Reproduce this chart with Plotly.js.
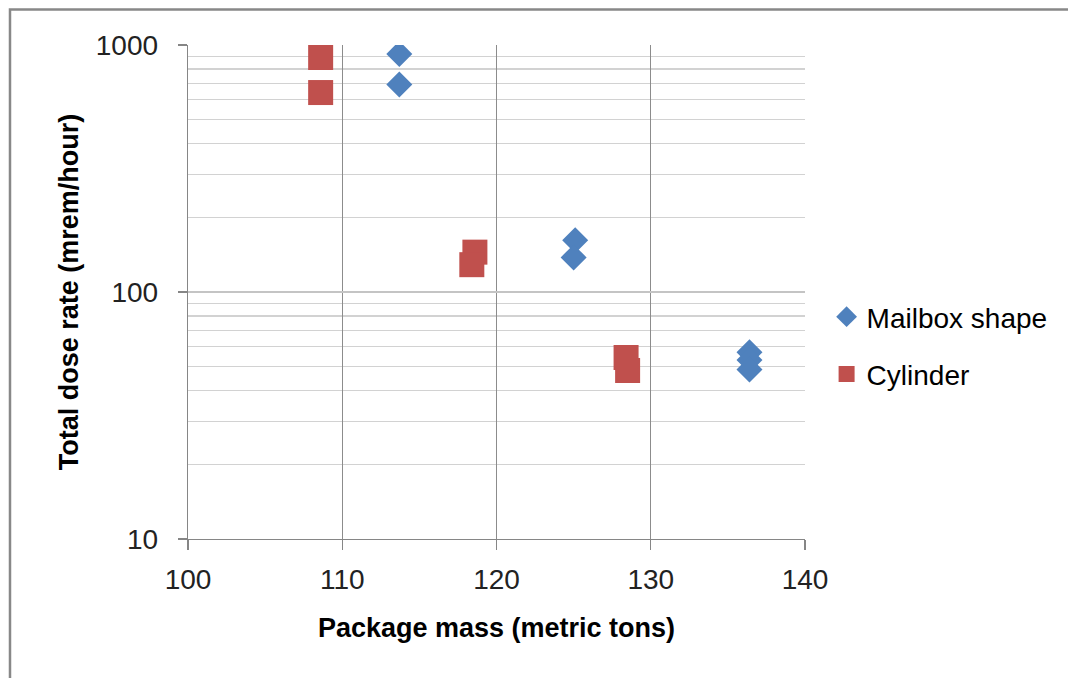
<!DOCTYPE html>
<html>
<head>
<meta charset="utf-8">
<script src="https://cdn.plot.ly/plotly-3.0.1.min.js"></script>
<style>html,body{margin:0;padding:0;background:#fff;}#chart{width:1068px;height:678px;}</style>
</head>
<body>
<div id="chart"></div>
<script>
// Data
const seriesNames = ["Mailbox shape", "Cylinder"];
const mailboxMass = [113.7, 113.7, 125.1, 125.0, 136.4, 136.4, 136.4];
const mailboxDose = [920, 692, 162, 138, 57, 53, 48.6];
const cylinderMass = [108.6, 108.6, 118.6, 118.4, 128.4, 128.5];
const cylinderDose = [890, 642, 145, 129, 54.3, 48.1];
const xTickVals = [100, 110, 120, 130, 140];
const xTitle = "Package mass (metric tons)";
const yTitle = "Total dose rate (mrem/hour)";

const FONT = "'Liberation Sans', Arial, sans-serif";

const traces = [
  {
    x: mailboxMass, y: mailboxDose, name: seriesNames[0],
    type: "scatter", mode: "markers", legendgroup: "a",
    marker: {symbol: "diamond", size: 20, color: "#4F81BD", line: {width: 0}}
  },
  {
    x: cylinderMass, y: cylinderDose, name: seriesNames[1],
    type: "scatter", mode: "markers", legendgroup: "b",
    marker: {symbol: "square", size: 25, color: "#C0504D", line: {width: 0}}
  }
];

const layout = {
  width: 1068, height: 678,
  margin: {l: 188, r: 263, t: 45, b: 139},
  paper_bgcolor: "#ffffff", plot_bgcolor: "#ffffff",
  font: {family: FONT, size: 28, color: "#000000"},
  showlegend: true,
  legend: {
    x: 1.035, xanchor: "left", y: 0.5, yanchor: "top",
    font: {family: FONT, size: 28, color: "#000000"},
    traceorder: "grouped", tracegroupgap: 18,
    itemwidth: 30, bgcolor: "rgba(0,0,0,0)"
  },
  xaxis: {
    range: [100, 140], tickvals: xTickVals, ticktext: xTickVals.map(String),
    showgrid: true, gridcolor: "#8c8c8c", gridwidth: 1.3,
    showline: true, linecolor: "#868686", linewidth: 1.3,
    ticks: "outside", ticklen: 10, tickcolor: "#868686", tickwidth: 1.3,
    ticklabelstandoff: 5,
    tickfont: {family: FONT, size: 28, color: "#222"},
    zeroline: false, fixedrange: true,
    title: {text: xTitle, font: {family: FONT, size: 27, color: "#000", weight: "bold"}, standoff: 24}
  },
  yaxis: {
    type: "log", range: [1, 3], dtick: 1, exponentformat: "none",
    showgrid: true, gridcolor: "#c4c4c4", gridwidth: 1.3,
    minor: {dtick: "D1", showgrid: true, gridcolor: "#d2d2d2", gridwidth: 1.3, ticks: ""},
    showline: true, linecolor: "#868686", linewidth: 1.3,
    ticks: "outside", ticklen: 9, tickcolor: "#868686", tickwidth: 1.3,
    ticklabelstandoff: 14,
    tickfont: {family: FONT, size: 28, color: "#222"},
    zeroline: false, fixedrange: true,
    title: {text: yTitle, font: {family: FONT, size: 27, color: "#000", weight: "bold"}, standoff: 9}
  },
  shapes: [
    {type: "rect", xref: "paper", yref: "paper",
     x0: -0.2885, x1: 1.44, y0: -0.32, y1: 1.0719,
     line: {color: "#888888", width: 2.5}, fillcolor: "rgba(0,0,0,0)", layer: "above"}
  ]
};

Plotly.newPlot("chart", traces, layout, {displayModeBar: false, staticPlot: true});
</script>
</body>
</html>
